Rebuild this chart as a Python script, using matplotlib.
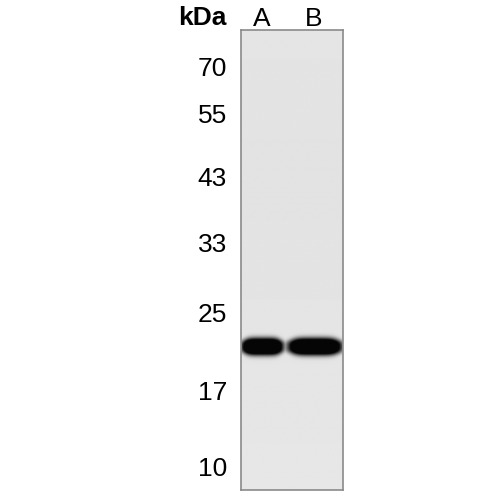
import numpy as np
import matplotlib.pyplot as plt

# marker ladder (kDa) and where each one sits down the membrane (px from top of blot)
marker_labels = ["70", "55", "43", "33", "25", "17", "10"]
marker_pos = [37, 84, 146, 213, 283, 360, 436]

# lanes and the single band in each lane
lanes = ["A", "B"]
lane_label_x = [0.41, 1.42]
band_center_x = [0.42, 1.45]
band_width = [0.82, 1.06]
band_pos = [317, 317]
band_thick = [8.5, 8.5]

blot_height = 460
bg_level = 0.905

fig = plt.figure(figsize=(5, 5), dpi=100)
ax = fig.add_axes([0.482, 0.02, 0.204, 0.92])

# build the membrane image from the band parameters
xs = np.linspace(0, 2, 300)
ys = np.linspace(0, blot_height, 900)
X, Y = np.meshgrid(xs, ys)
signal = np.zeros_like(X)
for cx, w, cy, t in zip(band_center_x, band_width, band_pos, band_thick):
    hx = np.exp(-np.abs((X - cx) / (w / 2)) ** 5)
    # band is a bit thicker in the middle than at the ends
    tt = t * (0.6 + 0.4 * hx)
    hy = np.exp(-np.abs((Y - cy) / tt) ** 3)
    signal = np.maximum(signal, hx * hy)
# faint vertical shading of the membrane
shade = bg_level - 0.015 * np.exp(-((Y - 150) / 200) ** 2)
s = np.clip(signal * 1.8, 0, 1)
img = shade * (1 - s) + 0.02 * s
ax.imshow(img, cmap="gray", vmin=0, vmax=1, extent=(0, 2, blot_height, 0),
          aspect="auto", interpolation="bilinear")

ax.set_xlim(0, 2)
ax.set_ylim(blot_height, 0)
for sp in ax.spines.values():
    sp.set_color("#8a8a8a")
    sp.set_linewidth(1.2)

font = ["Liberation Sans Narrow", "Liberation Sans", "DejaVu Sans"]
ax.set_yticks(marker_pos)
ax.set_yticklabels(marker_labels, family=font, fontsize=19)
ax.tick_params(axis="y", length=0, pad=10)
ax.xaxis.tick_top()
ax.set_xticks(lane_label_x)
ax.set_xticklabels(lanes, family=font, fontsize=19)
ax.tick_params(axis="x", length=0, pad=-1)

fig.text(0.404, 0.964, "kDa", family=font, fontsize=19, fontweight="bold",
         ha="center", va="center")

fig.savefig("out.png", dpi=100, facecolor="white")
